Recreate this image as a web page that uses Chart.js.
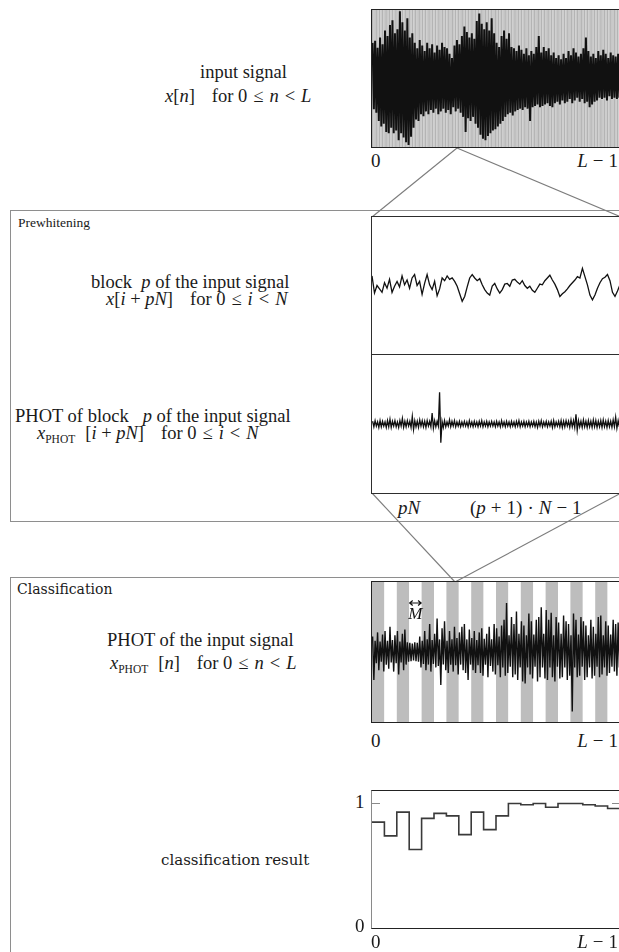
<!DOCTYPE html>
<html>
<head>
<meta charset="utf-8">
<script src="https://cdn.jsdelivr.net/npm/chart.js@4/dist/chart.umd.min.js"></script>
<style>
  html, body { margin: 0; padding: 0; background: #fff; }
  body { width: 619px; height: 952px; position: relative; overflow: hidden;
         font-family: "Liberation Serif", "Times New Roman", serif; color: #1a1a1a; }
  .t { position: absolute; white-space: pre; font-size: 18.5px; line-height: 20px; }
  .lbl { position: absolute; white-space: pre; font-size: 19px; line-height: 20px; }
  .rt { right: 1px; text-align: right; }
  .sec { position: absolute; white-space: pre; font-family: "DejaVu Serif", serif; font-size: 14px; line-height: 16px; }
  .res { position: absolute; white-space: pre; font-family: "DejaVu Serif", serif; font-size: 15px; line-height: 18px; }
  .plain { position: absolute; white-space: pre; font-size: 13.5px; line-height: 16px; }
  .frame { position: absolute; box-sizing: content-box; background: #fff; }
  .frame canvas { display: block; }
  i { font-style: italic; }
  .q { display: inline-block; width: 17px; }
  .r { padding: 0 6px; }
  .o { padding: 0 5px; }
  .sub { font-size: 11.5px; position: relative; top: 4px; font-style: normal; margin-right: 10px; }
  svg { position: absolute; left: 0; top: 0; }
</style>
</head>
<body>

<svg width="619" height="952">
  <rect x="10.5" y="210.5" width="640" height="311" fill="none" stroke="#8e8e8e" stroke-width="1"/>
  <rect x="10.5" y="577.5" width="640" height="420" fill="none" stroke="#8e8e8e" stroke-width="1"/>
  <g stroke="#7c7c7c" stroke-width="1.1">
    <line x1="457" y1="148" x2="372" y2="217"/>
    <line x1="457" y1="148" x2="621" y2="217"/>
    <line x1="372" y1="493" x2="455" y2="582"/>
    <line x1="621" y1="493" x2="455" y2="582"/>
  </g>
</svg>

<!-- input signal -->
<div class="frame" style="left:371px;top:9px;border:1px solid #222;">
  <canvas id="cInput" width="248" height="137"></canvas>
</div>
<div class="lbl" style="left:371px;top:151px">0</div>
<div class="lbl rt" style="top:151px"><i>L</i><span class="o">−</span>1</div>

<!-- prewhitening: one block and its PHOT -->
<div class="frame" style="left:371px;top:216px;border:1px solid #2e2e2e;">
  <canvas id="cBlock" width="248" height="137"></canvas>
  <div style="height:1px;background:#2e2e2e"></div>
  <canvas id="cBlockPhot" width="248" height="138"></canvas>
</div>
<div class="lbl" style="left:398px;top:498px"><i>pN</i></div>
<div class="lbl" style="left:470px;top:498px">(<i>p</i><span class="o">+</span>1)<span class="o">·</span><i>N</i><span class="o">−</span>1</div>

<!-- classification: whole PHOT signal with M-blocks -->
<div class="frame" style="left:371px;top:581px;border:1px solid #222;">
  <canvas id="cPhot" width="248" height="140"></canvas>
</div>
<div class="lbl" style="left:371px;top:731px">0</div>
<div class="lbl rt" style="top:731px"><i>L</i><span class="o">−</span>1</div>

<!-- classification result -->
<div class="frame" style="left:371px;top:790px;border-top:1px solid #222;border-bottom:1px solid #222;border-left:1px solid #8a8a8a;">
  <canvas id="cResult" width="248" height="137"></canvas>
</div>
<div class="lbl" style="left:355px;top:792px">1</div>
<div class="lbl" style="left:355px;top:916px">0</div>
<div class="lbl" style="left:371px;top:932px">0</div>
<div class="lbl rt" style="top:932px"><i>L</i><span class="o">−</span>1</div>

<!-- left-hand descriptions -->
<div class="t" style="left:200px;top:62px">input signal</div>
<div class="t" style="left:165px;top:86px"><i>x</i>[<i>n</i>]<span class="q"></span>for 0<span class="r">≤</span><i>n</i><span class="r">&lt;</span><i>L</i></div>

<div class="plain" style="left:18px;top:215px">Prewhitening</div>
<div class="t" style="left:91px;top:272px">block  <i>p</i> of the input signal</div>
<div class="t" style="left:106px;top:289px"><i>x</i>[<i>i</i> + <i>pN</i>]<span class="q"></span>for 0<span class="r">≤</span><i>i</i><span class="r">&lt;</span><i>N</i></div>
<div class="t" style="left:15px;top:406px">PHOT of block   <i>p</i> of the input signal</div>
<div class="t" style="left:37px;top:423px"><i>x</i><span class="sub">PHOT</span>[<i>i</i> + <i>pN</i>]<span class="q"></span>for 0<span class="r">≤</span><i>i</i><span class="r">&lt;</span><i>N</i></div>

<div class="sec" style="left:17px;top:581px">Classification</div>
<div class="t" style="left:107px;top:630px">PHOT of the input signal</div>
<div class="t" style="left:110px;top:653px"><i>x</i><span class="sub">PHOT</span>[<i>n</i>]<span class="q"></span>for 0<span class="r">≤</span><i>n</i><span class="r">&lt;</span><i>L</i></div>
<div class="res" style="left:161px;top:851px">classification result</div>

<script>
// Input signal x[n]: upper / lower excursion per column (100 columns over 0..L-1)
const inputUpper = [0.52,0.55,0.45,0.60,0.50,0.70,0.62,0.78,0.85,0.66,0.72,0.98,0.82,0.70,0.88,0.60,0.66,0.52,0.44,0.56,
  0.48,0.40,0.52,0.44,0.50,0.38,0.48,0.42,0.52,0.46,0.44,0.36,0.30,0.48,0.56,0.50,0.62,0.76,0.68,0.60,
  0.66,0.58,0.84,0.95,0.80,0.72,0.82,0.70,0.88,0.66,0.52,0.46,0.62,0.70,0.58,0.66,0.46,0.44,0.40,0.48,
  0.42,0.36,0.44,0.34,0.40,0.36,0.46,0.62,0.38,0.46,0.40,0.44,0.34,0.38,0.30,0.34,0.28,0.36,0.30,0.40,
  0.34,0.44,0.38,0.32,0.36,0.44,0.60,0.40,0.32,0.36,0.30,0.40,0.34,0.42,0.36,0.30,0.38,0.34,0.32,0.36];
const inputLower = [-0.45,-0.50,-0.62,-0.70,-0.66,-0.78,-0.80,-0.72,-0.80,-0.76,-0.90,-0.80,-0.86,-0.93,-0.97,-0.85,-0.72,-0.60,-0.62,-0.52,
  -0.55,-0.48,-0.52,-0.46,-0.50,-0.44,-0.52,-0.48,-0.44,-0.50,-0.46,-0.52,-0.42,-0.48,-0.44,-0.50,-0.56,-0.78,-0.58,-0.62,
  -0.56,-0.66,-0.72,-0.82,-0.88,-0.90,-0.84,-0.80,-0.76,-0.74,-0.70,-0.66,-0.62,-0.56,-0.52,-0.50,-0.54,-0.48,-0.46,-0.44,
  -0.46,-0.42,-0.44,-0.62,-0.42,-0.40,-0.38,-0.42,-0.40,-0.38,-0.36,-0.40,-0.42,-0.36,-0.34,-0.38,-0.32,-0.36,-0.34,-0.30,
  -0.36,-0.32,-0.28,-0.34,-0.30,-0.36,-0.34,-0.42,-0.38,-0.34,-0.32,-0.28,-0.30,-0.28,-0.32,-0.26,-0.30,-0.28,-0.30,-0.28];

// Block p of the input signal, x[i + pN]
const blockSignal = [0.14,-0.11,0.00,-0.05,-0.10,0.04,-0.04,0.09,-0.10,-0.01,0.06,-0.02,0.14,0.01,0.08,-0.04,0.11,0.16,0.00,0.06,
  -0.13,0.03,0.16,0.01,-0.06,0.06,-0.15,-0.05,0.11,0.07,0.14,0.09,0.11,0.06,-0.01,-0.12,-0.23,-0.16,-0.02,0.11,
  0.16,0.11,0.07,0.10,0.01,-0.06,-0.11,-0.14,-0.01,0.03,-0.05,-0.11,-0.06,0.02,0.03,-0.01,0.08,0.09,0.05,0.02,
  0.07,0.00,-0.04,-0.01,-0.07,-0.10,-0.04,0.02,0.01,0.07,0.11,0.15,0.08,0.02,-0.06,-0.16,-0.12,-0.09,-0.05,0.00,
  0.04,0.08,0.13,0.11,0.25,0.13,0.01,-0.14,-0.21,-0.14,-0.04,0.04,0.10,0.12,0.16,0.07,-0.10,-0.16,-0.08,0.01];

// PHOT of block p, x_PHOT[i + pN]: upper / lower excursion per column
const blockPhotUpper = [0.04,0.05,0.03,0.05,0.04,0.03,0.05,0.07,0.04,0.05,0.03,0.05,0.08,0.04,0.05,0.04,0.11,0.05,0.04,0.06,
  0.05,0.04,0.05,0.04,0.16,0.05,0.04,0.46,0.04,0.05,0.03,0.06,0.04,0.05,0.03,0.04,0.03,0.04,0.03,0.05,
  0.03,0.04,0.03,0.04,0.05,0.03,0.04,0.03,0.04,0.03,0.04,0.03,0.05,0.03,0.04,0.03,0.04,0.03,0.04,0.05,
  0.03,0.04,0.03,0.04,0.03,0.04,0.03,0.04,0.05,0.03,0.04,0.03,0.04,0.05,0.03,0.04,0.05,0.04,0.05,0.04,
  0.06,0.05,0.14,0.05,0.04,0.06,0.04,0.05,0.04,0.06,0.05,0.04,0.05,0.06,0.04,0.05,0.04,0.06,0.10,0.05];
const blockPhotLower = [-0.04,-0.03,-0.05,-0.04,-0.03,-0.05,-0.04,-0.05,-0.03,-0.04,-0.05,-0.03,-0.05,-0.04,-0.03,-0.05,-0.08,-0.04,-0.05,-0.03,
  -0.04,-0.05,-0.03,-0.04,-0.06,-0.04,-0.03,-0.27,-0.05,-0.04,-0.03,-0.04,-0.03,-0.04,-0.03,-0.04,-0.03,-0.03,-0.04,-0.03,
  -0.04,-0.03,-0.04,-0.03,-0.04,-0.03,-0.04,-0.03,-0.03,-0.04,-0.03,-0.04,-0.03,-0.04,-0.03,-0.04,-0.03,-0.04,-0.03,-0.04,
  -0.03,-0.04,-0.03,-0.04,-0.03,-0.04,-0.05,-0.03,-0.04,-0.03,-0.04,-0.03,-0.05,-0.04,-0.03,-0.04,-0.05,-0.04,-0.03,-0.05,
  -0.04,-0.05,-0.09,-0.04,-0.05,-0.04,-0.05,-0.04,-0.05,-0.04,-0.05,-0.04,-0.05,-0.04,-0.05,-0.04,-0.05,-0.04,-0.06,-0.04];

// PHOT of the whole input signal, x_PHOT[n]: upper / lower excursion per column
const photUpper = [0.22,0.16,0.28,0.15,0.25,0.30,0.16,0.36,0.17,0.24,0.30,0.15,0.26,0.32,
  0.14,0.13,0.12,0.14,0.13,
  0.22,0.16,0.30,0.18,0.40,0.17,0.26,0.48,0.18,0.34,0.44,0.16,0.30,0.18,0.36,0.20,0.28,0.36,0.40,0.18,0.32,0.20,0.30,0.17,0.28,0.34,0.19,0.26,0.36,0.18,0.40,0.34,
  0.22,0.38,0.46,0.70,0.24,0.50,0.40,0.58,0.26,0.44,0.38,0.24,0.55,0.44,0.25,0.46,0.50,0.64,0.26,0.60,0.46,0.56,0.24,0.50,0.42,
  0.26,0.52,0.44,0.40,0.24,0.55,0.46,0.25,0.50,0.44,0.38,0.24,0.46,0.36,0.26,0.50,0.52,0.24,0.44,0.38,0.25,0.46,0.40,0.42];
const photLower = [-0.40,-0.16,-0.26,-0.14,-0.28,-0.18,-0.24,-0.15,-0.28,-0.16,-0.32,-0.15,-0.26,-0.18,
  -0.14,-0.13,-0.12,-0.13,-0.14,
  -0.22,-0.17,-0.26,-0.18,-0.28,-0.17,-0.22,-0.20,-0.47,-0.18,-0.26,-0.30,-0.18,-0.28,-0.19,-0.32,-0.18,-0.26,-0.30,-0.40,-0.18,-0.26,-0.30,-0.19,-0.30,-0.34,-0.18,-0.36,-0.20,-0.28,-0.32,-0.19,
  -0.36,-0.22,-0.34,-0.30,-0.21,-0.36,-0.32,-0.40,-0.22,-0.42,-0.45,-0.22,-0.32,-0.38,-0.21,-0.42,-0.36,-0.22,-0.38,-0.40,-0.22,-0.36,-0.42,-0.21,-0.38,
  -0.36,-0.22,-0.40,-0.34,-0.85,-0.22,-0.36,-0.34,-0.21,-0.40,-0.36,-0.22,-0.38,-0.34,-0.21,-0.36,-0.32,-0.22,-0.34,-0.30,-0.21,-0.28,-0.34,-0.22];

// Classification result per M-block
const classResult = [0.85,0.74,0.93,0.63,0.88,0.92,0.90,0.75,0.93,0.79,0.90,1.00,0.99,1.00,0.97,1.00,1.00,0.99,0.98,0.96];

// Block counts for the shaded backgrounds
const prewhiteningBlocks = 150;
const classificationBlocks = classResult.length;

// one column -> two samples (upper, then lower), giving the dense audio-like trace
function zigzag(up, low) {
  const pts = [];
  const n = Math.min(up.length, low.length);
  for (let i = 0; i < n; i++) {
    pts.push({ x: i + 0.25, y: up[i] });
    pts.push({ x: i + 0.75, y: low[i] });
  }
  return pts;
}

// alternating block shading behind the traces
const blockShade = {
  id: 'blockShade',
  beforeDatasetsDraw(chart, args, o) {
    if (!o || !o.count) return;
    const { ctx, chartArea: a, scales: { x } } = chart;
    const w = (x.max - x.min) / o.count;
    ctx.save();
    for (let k = 0; k < o.count; k++) {
      const x0 = x.getPixelForValue(x.min + k * w);
      const x1 = x.getPixelForValue(x.min + (k + 1) * w);
      ctx.fillStyle = o.colors[k % 2];
      ctx.fillRect(x0, a.top, x1 - x0, a.bottom - a.top);
    }
    ctx.restore();
  }
};

// double arrow and label marking the width of one block
const blockMark = {
  id: 'blockMark',
  afterDatasetsDraw(chart, args, o) {
    if (!o || o.block == null) return;
    const { ctx, chartArea: a, scales: { x } } = chart;
    const w = (x.max - x.min) / o.count;
    const x0 = x.getPixelForValue(x.min + o.block * w);
    const x1 = x.getPixelForValue(x.min + (o.block + 1) * w);
    const y = a.top + o.offset;
    ctx.save();
    ctx.strokeStyle = '#111';
    ctx.lineWidth = 1.2;
    ctx.beginPath();
    ctx.moveTo(x0 + 0.5, y); ctx.lineTo(x1 - 0.5, y);
    ctx.moveTo(x0 + 3.5, y - 2.5); ctx.lineTo(x0 + 0.5, y); ctx.lineTo(x0 + 3.5, y + 2.5);
    ctx.moveTo(x1 - 3.5, y - 2.5); ctx.lineTo(x1 - 0.5, y); ctx.lineTo(x1 - 3.5, y + 2.5);
    ctx.stroke();
    ctx.fillStyle = '#111';
    ctx.font = 'italic 17px "Liberation Serif", serif';
    ctx.textAlign = 'center';
    ctx.textBaseline = 'middle';
    ctx.fillText(o.label, (x0 + x1) / 2, y + 12);
    ctx.restore();
  }
};

// short grey ticks at y = 1 on both sides of the result plot
const unitTicks = {
  id: 'unitTicks',
  afterDraw(chart, args, o) {
    if (!o || o.value == null) return;
    const { ctx, chartArea: a, scales: { y } } = chart;
    const py = Math.round(y.getPixelForValue(o.value)) + 0.5;
    ctx.save();
    ctx.strokeStyle = '#8a8a8a';
    ctx.lineWidth = 1;
    ctx.beginPath();
    ctx.moveTo(a.left, py); ctx.lineTo(a.left + 8, py);
    ctx.moveTo(a.right - 8, py); ctx.lineTo(a.right, py);
    ctx.stroke();
    ctx.restore();
  }
};

function makeChart(id, datasets, xMin, xMax, yMin, yMax, pluginOpts) {
  return new Chart(document.getElementById(id), {
    type: 'line',
    data: { datasets },
    options: {
      responsive: false,
      animation: false,
      events: [],
      layout: { padding: 0 },
      elements: { point: { radius: 0 }, line: { tension: 0 } },
      plugins: Object.assign({ legend: { display: false }, tooltip: { enabled: false } }, pluginOpts),
      scales: {
        x: { type: 'linear', display: false, min: xMin, max: xMax },
        y: { type: 'linear', display: false, min: yMin, max: yMax }
      }
    },
    plugins: [blockShade, blockMark, unitTicks]
  });
}

const trace = (data, w) => ({ data, borderColor: '#111', borderWidth: w, fill: false, pointRadius: 0 });

makeChart('cInput', [trace(zigzag(inputUpper, inputLower), 2.0)], 0, inputUpper.length, -1, 1,
  { blockShade: { count: prewhiteningBlocks, colors: ['#b4b4b4', '#c9c9c9'] } });

makeChart('cBlock', [trace(blockSignal.map((v, i) => ({ x: i, y: v })), 1.3)], 0, blockSignal.length - 1, -1, 1, {});

makeChart('cBlockPhot', [trace(zigzag(blockPhotUpper, blockPhotLower), 1.3)], 0, blockPhotUpper.length, -1, 1, {});

makeChart('cPhot', [trace(zigzag(photUpper, photLower), 1.4)], 0, photUpper.length, -1, 1,
  { blockShade: { count: classificationBlocks, colors: ['#bdbdbd', '#ffffff'] },
    blockMark: { count: classificationBlocks, block: 3, offset: 21, label: 'M' } });

const resultSteps = classResult.map((v, k) => ({ x: k, y: v }));
resultSteps.push({ x: classResult.length, y: classResult[classResult.length - 1] });
makeChart('cResult', [Object.assign(trace(resultSteps, 1.6), { borderColor: '#3a3a3a', stepped: 'before' })],
  0, classResult.length, 0, 1.1, { unitTicks: { value: 1 } });
</script>
</body>
</html>
